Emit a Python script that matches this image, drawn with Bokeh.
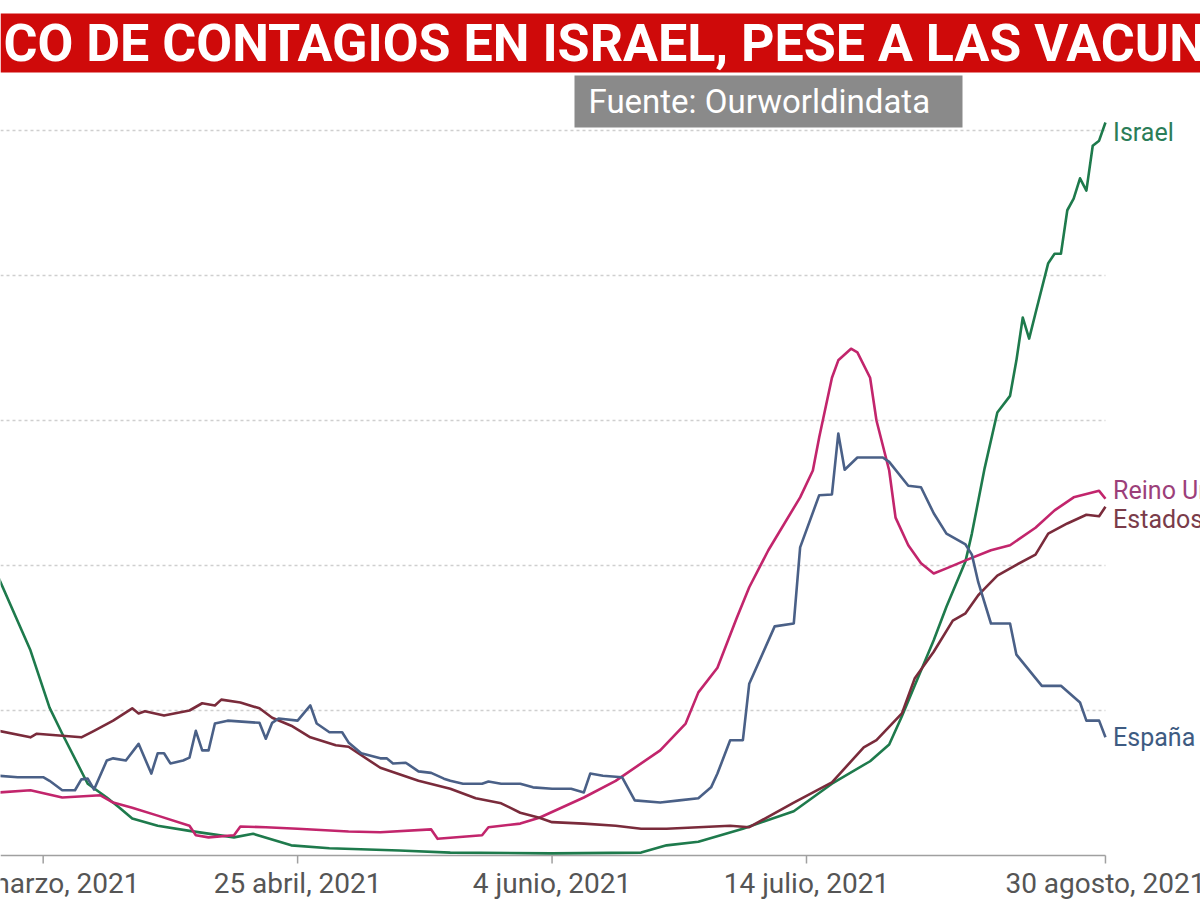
import pandas as pd
from bokeh.plotting import figure
from bokeh.models import Range1d, BoxAnnotation, Label
from bokeh.core.properties import value
from bokeh.embed import file_html
from bokeh.resources import INLINE

# ---------------- data (new cases per million, 7-day avg) ----------------
israel_dates = ["2021-03-09", "2021-03-14", "2021-03-17", "2021-03-19", "2021-03-23", "2021-03-26",
                "2021-03-28", "2021-03-30", "2021-04-03", "2021-04-08", "2021-04-15", "2021-04-18",
                "2021-04-24", "2021-04-30", "2021-05-11", "2021-05-19", "2021-06-04", "2021-06-18",
                "2021-06-22", "2021-06-27", "2021-07-04", "2021-07-12", "2021-07-18", "2021-07-24",
                "2021-07-27", "2021-07-29", "2021-07-31", "2021-08-03", "2021-08-05", "2021-08-08",
                "2021-08-09", "2021-08-11", "2021-08-13", "2021-08-15", "2021-08-16", "2021-08-17",
                "2021-08-18", "2021-08-19", "2021-08-21", "2021-08-22", "2021-08-23", "2021-08-24",
                "2021-08-25", "2021-08-26", "2021-08-27", "2021-08-28", "2021-08-29", "2021-08-30"]
israel_values = [383, 283, 204, 168, 99, 80, 66, 51, 41, 34, 25, 30, 14, 10, 7, 4, 3, 4, 14, 19,
                 37, 61, 99, 130, 153, 192, 234, 297, 343, 406, 444, 534, 611, 634, 683, 742, 713,
                 748, 817, 830, 830, 890, 906, 934, 917, 979, 986, 1011]

uk_dates = ["2021-03-09", "2021-03-14", "2021-03-19", "2021-03-25", "2021-03-27", "2021-03-30",
            "2021-04-03", "2021-04-08", "2021-04-09", "2021-04-11", "2021-04-15", "2021-04-16",
            "2021-04-20", "2021-04-25", "2021-05-03", "2021-05-08", "2021-05-16", "2021-05-17",
            "2021-05-24", "2021-05-25", "2021-05-30", "2021-06-02", "2021-06-09", "2021-06-14",
            "2021-06-21", "2021-06-25", "2021-06-27", "2021-06-30", "2021-07-03", "2021-07-05",
            "2021-07-08", "2021-07-13", "2021-07-15", "2021-07-16", "2021-07-18", "2021-07-19",
            "2021-07-21", "2021-07-22", "2021-07-24", "2021-07-25", "2021-07-27", "2021-07-28",
            "2021-07-30", "2021-08-01", "2021-08-03", "2021-08-05", "2021-08-08", "2021-08-12",
            "2021-08-15", "2021-08-19", "2021-08-22", "2021-08-25", "2021-08-29", "2021-08-30"]
uk_values = [87, 90, 80, 83, 73, 66, 55, 41, 28, 25, 28, 40, 39, 37, 33, 32, 36, 23, 28, 39, 44,
             52, 80, 103, 145, 182, 225, 259, 327, 370, 421, 494, 531, 577, 659, 683, 699, 694,
             659, 600, 531, 466, 428, 403, 389, 396, 407, 421, 428, 452, 476, 494, 503, 492]

us_dates = ["2021-03-09", "2021-03-14", "2021-03-15", "2021-03-22", "2021-03-24", "2021-03-27",
            "2021-03-30", "2021-03-31", "2021-04-01", "2021-04-04", "2021-04-08", "2021-04-10",
            "2021-04-12", "2021-04-13", "2021-04-16", "2021-04-19", "2021-04-21", "2021-04-24",
            "2021-04-27", "2021-05-01", "2021-05-03", "2021-05-08", "2021-05-14", "2021-05-19",
            "2021-05-23", "2021-05-27", "2021-05-30", "2021-06-02", "2021-06-04", "2021-06-09",
            "2021-06-14", "2021-06-18", "2021-06-22", "2021-06-27", "2021-07-02", "2021-07-05",
            "2021-07-12", "2021-07-18", "2021-07-23", "2021-07-25", "2021-07-29", "2021-07-31",
            "2021-08-03", "2021-08-06", "2021-08-08", "2021-08-10", "2021-08-11", "2021-08-13",
            "2021-08-16", "2021-08-19", "2021-08-21", "2021-08-24", "2021-08-27", "2021-08-29",
            "2021-08-30"]
us_values = [172, 163, 168, 163, 172, 186, 203, 196, 199, 193, 200, 210, 207, 215, 211, 203, 190,
             179, 163, 152, 150, 121, 103, 92, 79, 72, 59, 52, 46, 44, 41, 37, 37, 39, 41, 39, 73,
             101, 149, 159, 196, 244, 281, 324, 334, 359, 368, 386, 401, 415, 444, 458, 470, 468,
             481]

spain_dates = ["2021-03-09", "2021-03-12", "2021-03-16", "2021-03-17", "2021-03-19", "2021-03-21",
               "2021-03-22", "2021-03-23", "2021-03-24", "2021-03-26", "2021-03-27", "2021-03-29",
               "2021-03-31", "2021-04-02", "2021-04-03", "2021-04-04", "2021-04-05", "2021-04-07",
               "2021-04-08", "2021-04-09", "2021-04-10", "2021-04-11", "2021-04-12", "2021-04-14",
               "2021-04-19", "2021-04-20", "2021-04-21", "2021-04-22", "2021-04-25", "2021-04-27",
               "2021-04-28", "2021-04-30", "2021-05-02", "2021-05-03", "2021-05-05", "2021-05-08",
               "2021-05-09", "2021-05-10", "2021-05-12", "2021-05-14", "2021-05-16", "2021-05-18",
               "2021-05-19", "2021-05-21", "2021-05-24", "2021-05-25", "2021-05-27", "2021-05-30",
               "2021-06-01", "2021-06-04", "2021-06-07", "2021-06-09", "2021-06-10", "2021-06-12",
               "2021-06-15", "2021-06-17", "2021-06-21", "2021-06-24", "2021-06-27", "2021-06-29",
               "2021-06-30", "2021-07-02", "2021-07-04", "2021-07-05", "2021-07-09", "2021-07-12",
               "2021-07-13", "2021-07-16", "2021-07-18", "2021-07-19", "2021-07-20", "2021-07-22",
               "2021-07-26", "2021-07-27", "2021-07-30", "2021-08-01", "2021-08-03", "2021-08-05",
               "2021-08-08", "2021-08-09", "2021-08-10", "2021-08-12", "2021-08-15", "2021-08-16",
               "2021-08-20", "2021-08-23", "2021-08-26", "2021-08-27", "2021-08-29", "2021-08-30"]
spain_values = [110, 108, 108, 103, 90, 90, 105, 106, 91, 131, 134, 131, 154, 113, 141, 141, 127,
                131, 135, 172, 145, 145, 182, 186, 183, 161, 183, 189, 186, 207, 182, 170, 170, 156,
                141, 134, 134, 127, 128, 116, 114, 106, 103, 99, 99, 102, 99, 99, 94, 92, 92, 87,
                113, 110, 108, 76, 73, 76, 79, 94, 113, 159, 159, 237, 316, 320, 425, 497, 498, 582,
                532, 549, 549, 543, 510, 508, 472, 444, 429, 415, 377, 320, 320, 277, 234, 234, 211,
                186, 186, 163]

series_names = ["Israel", "Reino Unido", "Estados Unidos", "España"]
tick_dates = ["2021-03-16", "2021-04-25", "2021-06-04", "2021-07-14", "2021-08-30"]
tick_labels = ["16 marzo, 2021", "25 abril, 2021", "4 junio, 2021", "14 julio, 2021", "30 agosto, 2021"]
grid_values = [200, 400, 600, 800, 1000]

title_text = "CO DE CONTAGIOS EN ISRAEL, PESE A LAS VACUNAS"
source_text = "Fuente: Ourworldindata"

# ---------------- styling / layout ----------------
line_colors = ["#1e7a4c", "#c2256c", "#7a2b3b", "#4a6087"]
label_colors = ["#2b7d58", "#9c3f7a", "#7a3c4a", "#3e5b82"]
label_dy = [10, -8, 13, 0]  # pixel nudges (positive = down) to avoid overlap

FONT = "Roboto"
W, H = 1200, 900
BASE = 855                  # pixel row of the zero line
UNITS_PER_PX = 200 / 145    # value units per pixel vertically

last_date = pd.Timestamp("2021-08-30")
x_start = pd.Timestamp("2021-03-09") + pd.Timedelta(hours=7)
x_end = last_date + pd.Timedelta(days=14.94)

p = figure(frame_width=W, frame_height=H, x_axis_type="datetime",
           x_axis_location=None, y_axis_location=None,
           x_range=Range1d(x_start, x_end),
           y_range=Range1d(-(H - BASE) * UNITS_PER_PX, BASE * UNITS_PER_PX),
           output_backend="svg", toolbar_location=None, min_border=0,
           min_border_left=0, min_border_right=0, min_border_top=0, min_border_bottom=0,
           background_fill_color="white", border_fill_color="white")
p.outline_line_color = None
p.xgrid.visible = False
p.ygrid.visible = False

# dashed horizontal grid lines ending at the last date
p.segment(x0=[x_start] * len(grid_values), x1=[last_date] * len(grid_values),
          y0=grid_values, y1=grid_values, line_color="#cfcfcf", line_width=1.6, line_dash="3 3")

# date axis (baseline, ticks, labels) drawn through the plot scales
ticks = pd.to_datetime(tick_dates)
p.segment(x0=[x_start], x1=[last_date], y0=[0], y1=[0], line_color="#a0a0a0", line_width=1.5)
p.segment(x0=ticks, x1=ticks, y0=[0] * len(ticks), y1=[-8 * UNITS_PER_PX] * len(ticks),
          line_color="#a0a0a0", line_width=1.5)
p.text(x=ticks, y=[0] * len(ticks), text=tick_labels, text_font=value(FONT),
       text_font_size="28px", text_color="#555555", text_align="center",
       text_baseline="top", y_offset=11)

all_series = [
    (israel_dates, israel_values),
    (uk_dates, uk_values),
    (us_dates, us_values),
    (spain_dates, spain_values),
]
for i, (d, v) in enumerate(all_series):
    xs = pd.to_datetime(d)
    p.line(xs, v, line_color=line_colors[i], line_width=2.6, line_join="round")
    p.text(x=[last_date + pd.Timedelta(days=1.2)], y=[v[-1]], text=[series_names[i]],
           text_font=value(FONT), text_font_size="25px", text_color=label_colors[i],
           text_baseline="middle", text_align="left", y_offset=label_dy[i])

# header: red title bar and grey source box (screen units measured from the frame bottom)
p.add_layout(BoxAnnotation(left=0, right=W, top=H - 13, bottom=H - 72,
                           left_units="screen", right_units="screen", top_units="screen",
                           bottom_units="screen", fill_color="#cf0a0a", fill_alpha=1.0,
                           line_alpha=0))
p.add_layout(Label(x=3, y=H - 43, x_units="screen", y_units="screen", text=title_text,
                   text_font=FONT, text_font_style="bold", text_font_size="52px",
                   text_color="white", text_baseline="middle", text_align="left"))
p.add_layout(BoxAnnotation(left=574, right=962, top=H - 75, bottom=H - 127,
                           left_units="screen", right_units="screen", top_units="screen",
                           bottom_units="screen", fill_color="#8a8a8a", fill_alpha=1.0,
                           line_alpha=0))
p.add_layout(Label(x=588, y=H - 101, x_units="screen", y_units="screen", text=source_text,
                   text_font=FONT, text_font_size="33px", text_color="white",
                   text_baseline="middle", text_align="left"))

open("out.html", "w").write(file_html(p, INLINE))
